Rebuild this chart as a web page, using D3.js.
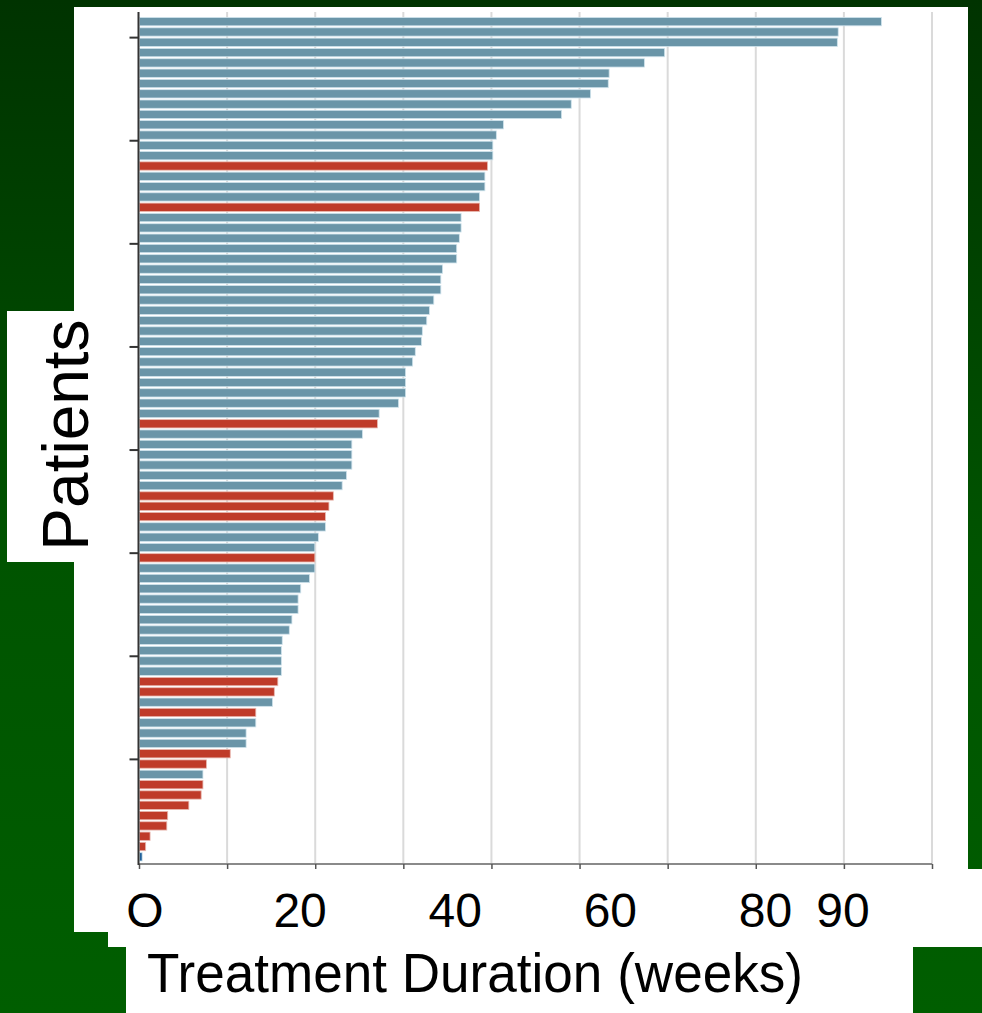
<!DOCTYPE html>
<html><head><meta charset="utf-8">
<script src="https://cdn.jsdelivr.net/npm/d3@7"></script>
<style>html,body{margin:0;padding:0;background:#004400;}svg{display:block;}</style>
</head><body>
<script>
// Treatment duration (weeks) per patient, top (longest) to bottom
const durations = [84.2,79.3,79.2,59.6,57.3,53.3,53.2,51.2,49.0,47.9,
  41.3,40.5,40.1,40.1,39.5,39.2,39.2,38.6,38.6,36.5,
  36.5,36.3,36.0,36.0,34.4,34.2,34.2,33.4,32.9,32.6,
  32.1,32.0,31.3,31.0,30.2,30.2,30.2,29.4,27.2,27.0,
  25.3,24.1,24.1,24.1,23.5,23.0,22.0,21.5,21.1,21.1,
  20.3,19.9,19.9,19.9,19.3,18.3,18.0,18.0,17.3,17.0,
  16.2,16.1,16.1,16.1,15.7,15.3,15.1,13.2,13.2,12.1,
  12.1,10.3,7.6,7.2,7.2,7.0,5.6,3.2,3.1,1.2,0.7,0.3];
// group: b = blue, r = red, d = dark blue
const groups = ["b","b","b","b","b","b","b","b","b","b",
  "b","b","b","b","r","b","b","b","r","b",
  "b","b","b","b","b","b","b","b","b","b",
  "b","b","b","b","b","b","b","b","b","r",
  "b","b","b","b","b","b","r","r","r","b",
  "b","b","r","b","b","b","b","b","b","b",
  "b","b","b","b","r","r","b","r","b","b",
  "b","r","r","b","r","r","r","r","r","r","r","d"];
const xGridValues = [0,10,20,30,40,50,60,70,80,90];
const yTickValues = [10,20,30,40,50,60,70,80];
const xLabelValues = [0,20,40,60,80,90];
const xLabelText = ["O","20","40","60","80","90"];
const yTitle = "Patients";
const xTitle = "Treatment Duration (weeks)";

const W = 982, H = 1013;
const colors = {b:"#6a95a8", r:"#bf3b29", d:"#1f5f99"};
const svg = d3.select("body").append("svg").attr("width", W).attr("height", H);

const defs = svg.append("defs");
const grad = defs.append("linearGradient").attr("id","bg").attr("x1",0).attr("y1",0).attr("x2",0).attr("y2",1);
grad.append("stop").attr("offset","0").attr("stop-color","#003300");
grad.append("stop").attr("offset","0.55").attr("stop-color","#005400");
grad.append("stop").attr("offset","1").attr("stop-color","#005e00");
svg.append("rect").attr("width",W).attr("height",H).attr("fill","url(#bg)");

// white panels
svg.append("rect").attr("x",74).attr("y",7).attr("width",894).attr("height",925).attr("fill","#fff");
svg.append("rect").attr("x",108).attr("y",869).attr("width",874).attr("height",78).attr("fill","#fff");
svg.append("rect").attr("x",126).attr("y",947).attr("width",787).attr("height",66).attr("fill","#fff");
svg.append("rect").attr("x",7).attr("y",311).attr("width",80).attr("height",251).attr("fill","#fff");

const n = durations.length;
const x = d3.scaleLinear().domain([0,90]).range([139,932]);
const y = d3.scaleLinear().domain([0,n]).range([862,16.5]);

// gridlines
svg.append("g").selectAll("line").data(xGridValues.filter(v=>v>0)).join("line")
  .attr("x1",d=>x(d)).attr("x2",d=>x(d)).attr("y1",12).attr("y2",864)
  .attr("stroke","#dadada").attr("stroke-width",2);

// bars
const data = durations.map((v,i)=>({v, g:groups[i], idx:n-1-i}));
const bh = y(0)-y(1);
svg.append("g").selectAll("rect").data(data).join("rect")
  .attr("x",x(0)+0.5)
  .attr("y",d=>y(d.idx+1)+1)
  .attr("width",d=>Math.max(1.5, x(d.v)-x(0)))
  .attr("height",bh-2)
  .attr("fill",d=>colors[d.g])
  .attr("stroke",d=>d.g==="r"?"#e8b8b0":"#cfe3ec")
  .attr("stroke-width",0.8);

// x axis (bottom)
const xAxis = svg.append("g").attr("transform","translate(0,864)")
  .call(d3.axisBottom(x).tickValues(xGridValues).tickSize(5).tickFormat(""));
xAxis.select(".domain").attr("stroke","#8a8a8a").attr("stroke-width",2).attr("d","M138,0H932");
xAxis.selectAll(".tick line").attr("stroke","#555").attr("stroke-width",1.5);

// y axis
const yAxis = svg.append("g").attr("transform","translate(138.5,0)")
  .call(d3.axisLeft(y).tickValues(yTickValues).tickSize(9).tickFormat(""));
yAxis.select(".domain").attr("stroke","#333").attr("stroke-width",2).attr("d","M0,12V865");
yAxis.selectAll(".tick line").attr("stroke","#333").attr("stroke-width",2);

// x tick labels (overlay)
const xl = d3.scaleLinear().domain([0,90]).range([145,843]);
svg.append("g").selectAll("text").data(xLabelValues).join("text")
  .attr("x",d=>xl(d)).attr("y",927)
  .attr("text-anchor","middle")
  .attr("font-family","Liberation Sans, Arial, sans-serif")
  .attr("font-size",48).attr("fill","#000")
  .text((d,i)=>xLabelText[i]);

// x title
svg.append("text").attr("x",147).attr("y",992)
  .attr("font-family","Liberation Sans, Arial, sans-serif")
  .attr("font-size",55).attr("fill","#000")
  .attr("textLength",656).attr("lengthAdjust","spacingAndGlyphs")
  .text(xTitle);

// y title
svg.append("text").attr("transform","translate(88,435) rotate(-90)")
  .attr("text-anchor","middle")
  .attr("font-family","Liberation Sans, Arial, sans-serif")
  .attr("font-size",64).attr("fill","#000")
  .text(yTitle);
</script>
</body></html>
